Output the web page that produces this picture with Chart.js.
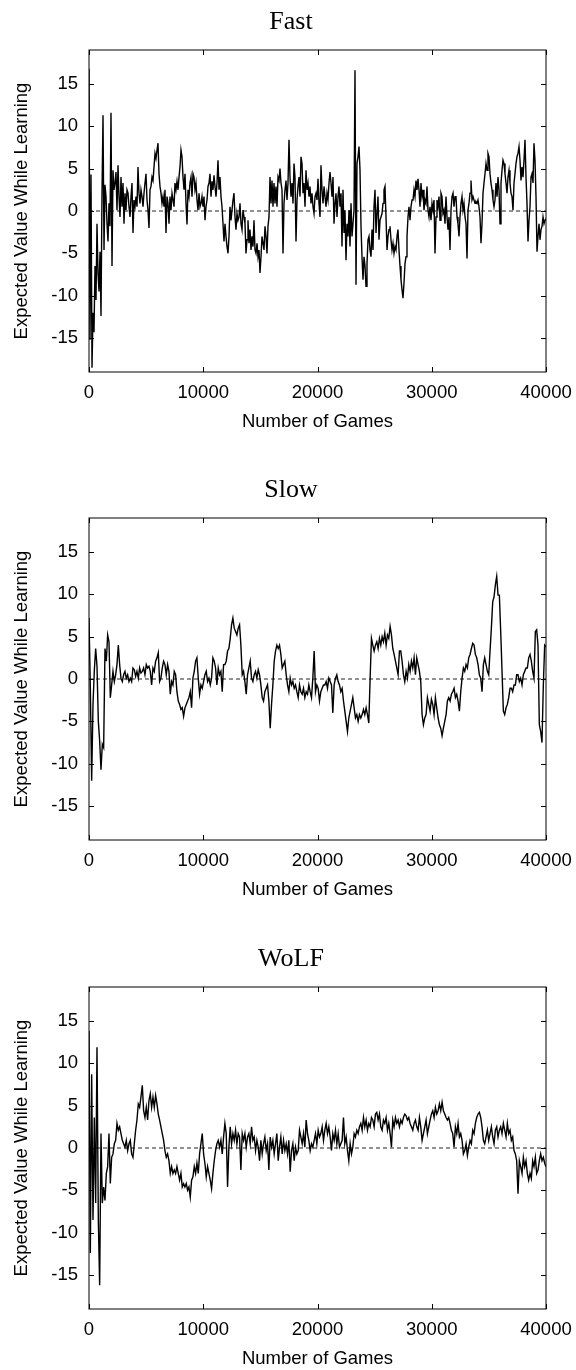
<!DOCTYPE html>
<html><head><meta charset="utf-8">
<script src="https://cdn.jsdelivr.net/npm/chart.js@4/dist/chart.umd.min.js"></script>
<style>
html,body{margin:0;padding:0;background:#fff;overflow:hidden;width:576px;height:1370px;}
.panel{position:absolute;left:0;width:576px;height:433px;}
canvas{display:block;}
</style></head><body>
<div class="panel" style="top:0px"><canvas id="c0" width="576" height="433"></canvas></div>
<div class="panel" style="top:468px"><canvas id="c1" width="576" height="433"></canvas></div>
<div class="panel" style="top:937px"><canvas id="c2" width="576" height="433"></canvas></div>
<script>
const X_MIN = 0, X_MAX = 40000;
const Y_MIN = -19, Y_MAX = 19;
const X_TICKS = [0, 10000, 20000, 30000, 40000];
const Y_TICKS = [-15, -10, -5, 0, 5, 10, 15];
const TITLES = ['Fast', 'Slow', 'WoLF'];
const X_LABEL = 'Number of Games';
const Y_LABEL = 'Expected Value While Learning';

// Expected value, evenly spaced over 0..40000 games
const FAST = [
16.8,-15.2,4.3,-18.5,-12,-14.3,-6.5,-10.5,-1.5,-7.3,-9.5,-4.8,-12.4,
2.1,11.3,-4.6,3.1,1.7,-1.5,-3.6,0.9,-1.8,11.6,-6.5,4.8,2.5,3.3,4.6,0.1,5.4,1.7,-0.7,4.0,0.5,3.3,-1.5,2.1,0.1,2.5,2.1,0.5,-0.7,1.7,3.3,
-2.6,1.3,0.5,1.7,0.5,5.2,2.1,0.9,2.5,1.7,0.5,2.1,3.3,4.4,1.3,0.1,-2.0,2.5,2.9,4.0,3.6,5.2,6.8,6.2,7.2,
8.0,4.4,2.9,2.1,0.9,1.7,0.5,2.5,-2.6,1.7,0.9,-1.5,1.7,0.1,2.1,1.3,
0.5,3.3,2.5,3.5,2.5,4.0,5.2,
7.2,6.4,4.0,2.5,4.4,0.9,-1.6,2.5,1.7,3.3,4.0,1.7,4.4,4.0,2.5,3.3,1.3,0.1,2.1,0.5,0.9,1.7,0.5,1.7,-1.1,0.5,1.3,2.9,3.3,4.4,1.7,3.5,2.5,4.2,2.9,1.7,
3.3,6.0,2.5,
4.0,1.7,0.5,-1.5,-3.6,-1.5,-3.0,-4.2,-5.0,-3.0,0.5,-1.1,0.1,1.3,
2.1,-0.7,-2.2,-0.3,-1.1,-0.7,0.9,-1.5,-2.2,0.1,-0.7,-1.5,-5.0,-3.4,-1.1,-3.8,-2.2,-4.6,-3.0,-4.2,-1.1,-4.6,-5.0,-3.8,-5.4,-4.6,-7.3,-5.4,-3.0,-3.8,-4.6,-1.8,-3.0,-5.0,-1.8,-0.7,4.0,0.9,3.6,0.5,3.3,0.9,2.9,0.5,4.0,3.6,5.0,3.3,2.5,-5.0,0.9,2.5,3.6,1.3,3.3,8.4,4.0,1.7,3.3,0.9,5.6,4.0,-3.6,1.3,2.9,4.0,1.7,6.4,5.6,2.1,3.3,0.5,4.8,2.5,3.3,1.7,2.9,0.9,2.1,0.5,-0.3,1.7,2.1,
1.3,3.8,0.9,-0.7,5.4,2.5,0.9,2.9,1.7,0.5,
2.1,1.3,3.3,4.6,3.3,1.7,4.0,-1.5,0.9,2.1,
-0.7,1.7,2.9,0.5,2.1,-4.2,2.5,-2.6,0.1,-5.8,
-1.5,-3.0,0.1,-4.2,0.9,-3.0,-1.5,0.1,16.6,-8.7,
5.6,6.4,7.6,4.8,-1.8,-5.4,-8.1,-5.4,-6.5,-8.9,
-6.2,-3.4,-3.0,-4.6,-5.4,-2.2,-4.6,0.5,2.5,-2.6,
-0.3,1.7,-3.4,-1.1,-0.7,-0.3,0.9,2.5,2.9,-0.7,
-4.6,-3.0,-2.2,-1.8,-3.4,-4.6,-3.8,-5.0,-4.2,-4.6,
-3.0,-2.2,-4.6,-6.5,-8.1,-9.3,-10.3,-8.5,-6.2,-5.4,
-3.0,-0.7,0.5,-1.1,0.5,1.3,1.3,2.5,1.7,3.6,
2.5,3.8,2.5,0.5,3.3,1.7,2.5,0.1,1.3,0.9,
2.9,0.1,-0.7,0.5,-1.1,0.9,0.1,1.3,-5.0,-0.7,
1.3,0.5,1.7,-1.1,2.1,1.7,-0.3,0.1,-1.5,1.7,
-0.7,-2.2,-0.7,-4.6,0.1,1.7,2.1,0.5,1.7,1.7,
-0.7,-1.5,-3.0,-0.7,0.9,1.7,0.1,0.9,-0.7,-1.5,
-5.6,0.1,0.9,2.1,3.6,1.3,1.7,1.3,0.9,1.1,
0.9,1.3,0.5,-0.7,-3.8,-1.5,2.1,3.3,4.4,5.6,
4.8,6.8,6.4,4.4,3.3,2.5,1.3,0.5,1.3,3.3,
1.7,4.0,2.5,-1.5,3.3,4.8,6.0,5.6,4.4,3.3,
2.1,4.0,4.8,3.3,2.1,1.7,0.1,3.3,4.4,5.6,
6.4,6.8,7.6,6.0,3.6,5.2,4.0,6.0,8.4,4.0,
0.9,-3.6,-1.1,0.5,4.0,4.4,3.3,8.0,6.0,1.7,
-4.8,-3.0,-1.5,-3.4,-2.2,-1.8,-0.7,-1.5,-1.1,-0.9
];

const SLOW = [
7.2,-1.0,-12.0,-3.0,1.0,3.6,1.5,-5.0,-7.3,-10.7,-7.7,-8.1,
3.6,2.1,5.2,4.4,-2.2,-0.7,0.9,-0.3,0.5,1.7,
4.0,1.7,0.1,-0.3,0.5,0.9,0.1,0.5,-0.3,0.1,
-0.3,1.3,1.1,0.3,0.9,0.1,1.3,0.7,0.9,1.3,
0.5,1.7,1.3,1.5,0.9,-0.7,1.3,0.9,2.1,2.5,
3.1,-0.3,0.1,1.3,2.1,1.7,0.5,1.7,0.9,-1.8,
-0.3,-0.7,0.9,0.5,-1.5,-2.6,-3.0,-3.6,-3.4,-4.4,
-3.4,-3.0,-2.6,-2.2,-1.5,-3.4,0.1,0.9,2.1,2.5,
0.1,-1.8,-0.7,-1.1,-0.3,0.5,0.9,-0.3,0.1,-0.7,
0.1,2.5,2.1,1.3,-0.7,1.3,0.5,0.9,-1.5,1.7,
1.7,2.1,3.3,3.6,4.8,6.4,7.2,6.0,5.6,5.2,
6.0,6.4,4.0,0.5,0.9,-0.3,-1.8,0.5,1.3,2.1,
0.1,-0.3,0.5,0.9,0.1,1.1,0.5,-0.7,-2.2,-2.6,
-1.5,-1.1,-0.7,-2.6,-5.8,-3.0,-0.7,2.1,3.3,4.0,
3.6,4.0,2.9,1.3,1.7,2.1,0.5,-0.7,-1.5,0.1,
-0.7,-0.3,-1.1,-0.7,-1.5,-2.2,-0.7,-1.5,-1.8,-1.1,
-2.2,-1.5,-1.8,-0.7,-1.5,-2.2,0.1,3.3,-1.5,-0.7,
-1.1,-2.6,-1.5,-1.1,-0.7,-0.7,-0.3,-1.1,0.1,-0.3,
-0.7,-4.0,-0.7,0.1,0.5,-0.3,-0.7,-1.5,-1.1,-2.6,
-3.8,-5.0,-6.2,-4.6,-3.8,-3.0,-2.2,-3.4,-4.6,-4.2,
-5.0,-4.2,-4.6,-4.2,-3.6,-4.2,-3.4,-4.2,-5.2,0.1,
4.8,4.0,3.3,4.0,4.4,3.6,4.8,4.0,5.0,4.4,
5.4,4.0,5.2,4.8,6.2,5.2,3.6,2.9,2.1,1.3,
0.5,3.3,3.3,2.1,0.5,-0.3,0.9,0.1,1.7,0.9,
2.1,1.3,2.5,0.5,2.5,1.7,0.9,-0.3,-4.2,-5.4,
-4.6,-4.2,-2.2,-3.0,-3.8,-2.4,-3.0,-4.2,-2.2,-3.4,
-4.6,-5.4,-5.8,-6.7,-5.8,-5.0,-4.2,-2.6,-2.2,-2.6,
-1.8,-1.5,-1.1,-2.2,-1.8,-2.6,-3.8,-1.5,0.1,1.3,
0.9,1.7,1.3,2.5,2.9,3.6,4.2,4.0,2.9,2.5,
1.7,0.5,0.1,-1.5,1.7,2.5,1.7,0.9,0.5,3.3,
6.0,9.1,9.7,11.1,12.1,9.9,9.9,5.6,0.9,-3.8,
-4.2,-3.4,-3.0,-2.2,-1.1,-1.1,-1.5,-0.7,-0.7,0.5,
0.5,-0.3,0.1,-0.7,0.5,0.9,1.3,1.3,2.5,2.9,
2.1,0.9,0.1,5.6,5.8,4.0,-5.4,-6.2,-7.5,-0.7,
4.0,3.8
];

const WOLF = [
13.8,-12.4,8.7,-8.5,3.6,-6.5,11.9,-8.5,-16.2,1.7,-6.5,-4.6,-6.2,
-3.0,-2.2,1.7,-4.2,-1.1,-0.7,0.5,0.9,2.9,2.1,
2.5,1.7,0.9,0.5,0.1,0.9,-0.3,0.5,0.9,-0.7,
-1.1,0.5,2.1,3.3,5.2,4.8,6.0,7.4,4.4,3.6,
4.8,3.3,5.6,6.4,4.8,6.0,4.8,6.2,5.2,4.0,
3.3,2.5,1.7,0.9,-0.3,-1.1,-0.7,-1.5,-3.0,-2.2,
-3.0,-2.6,-3.0,-2.2,-3.0,-3.8,-3.0,-4.6,-4.2,-4.6,
-4.2,-5.0,-4.6,-5.8,-3.8,-3.4,-2.2,-3.0,-1.8,-3.0,
-0.7,0.5,1.7,-0.7,-1.8,-3.4,-2.2,-3.0,-3.8,-4.8,
-3.0,-1.5,-0.3,0.5,0.9,0.1,0.9,-0.7,1.3,2.9,
1.7,-4.6,0.1,2.5,0.5,1.7,0.9,2.1,0.5,1.7,
1.3,-2.6,1.7,0.9,1.7,0.1,1.3,1.7,0.5,2.5,
0.9,1.3,-0.3,0.9,0.1,-1.5,0.9,-0.7,0.5,1.3,
-0.3,0.5,-2.6,1.3,0.1,0.9,-0.7,0.5,1.7,-1.5,
0.1,1.3,-0.7,0.9,-0.3,0.5,-0.7,0.9,-2.8,-0.3,
0.5,-1.5,0.1,-0.7,-0.3,2.1,1.3,0.5,1.7,0.1,
3.3,1.7,0.9,-0.3,0.5,0.1,0.9,1.7,0.5,2.1,
1.3,1.7,2.5,0.9,2.1,2.9,1.7,2.5,1.3,-0.3,
1.7,0.9,2.1,0.5,1.7,0.1,0.5,0.9,3.6,0.5,
1.3,-0.3,-1.5,0.5,-0.7,0.1,1.7,1.3,2.1,1.7,
2.5,2.9,2.1,3.6,2.5,3.3,2.1,2.9,2.5,3.6,
3.3,2.5,4.0,4.2,3.3,4.0,2.5,2.1,3.3,2.9,
3.6,2.1,2.9,1.7,0.1,3.3,2.5,3.6,2.9,3.3,
2.5,3.3,2.9,3.6,4.0,3.8,3.3,3.6,2.9,2.5,
2.1,2.9,3.3,2.5,2.1,3.6,2.5,0.9,1.7,2.5,
3.3,1.7,2.5,3.3,4.0,4.4,3.6,4.8,4.0,4.4,
5.2,4.4,5.4,4.4,4.0,3.6,3.3,3.6,2.9,2.1,
1.7,0.1,2.5,1.7,2.9,1.3,1.7,0.9,-0.7,-0.3,
0.5,-0.9,0.1,0.9,0.5,2.1,1.7,2.9,3.6,4.0,
4.2,3.6,2.5,0.9,0.5,1.3,2.1,0.9,1.7,2.5,
1.3,0.5,2.1,2.5,1.3,2.1,2.5,1.7,2.9,2.1,
1.3,2.9,1.7,2.1,0.9,1.3,-0.3,-0.7,-1.5,-5.4,
-1.5,-2.2,-3.0,-1.1,-2.2,-1.5,-3.0,-3.8,-3.0,-3.6,
-1.5,-2.2,-1.1,-3.0,-2.6,-1.5,-0.7,-1.5,-1.1,-1.8,
-2.2
];

const SERIES = [FAST, SLOW, WOLF];

const SANS = "'Liberation Sans', Arial, Helvetica, sans-serif";
const SERIF = "'Liberation Serif', 'Times New Roman', Times, serif";

const framePlugin = {
  id: 'frameTicks',
  afterDatasetsDraw(chart) {
    const { ctx, chartArea: a, scales: { x, y } } = chart;
    ctx.save();
    ctx.strokeStyle = '#000';
    ctx.lineWidth = 1;
    ctx.strokeRect(a.left, a.top, a.right - a.left, a.bottom - a.top);
    const L = 5;
    ctx.beginPath();
    x.ticks.forEach(t => {
      const px = Math.round(x.getPixelForValue(t.value)) + 0.5;
      ctx.moveTo(px, a.bottom); ctx.lineTo(px, a.bottom - L);
      ctx.moveTo(px, a.top); ctx.lineTo(px, a.top + L);
    });
    y.ticks.forEach(t => {
      const py = Math.round(y.getPixelForValue(t.value)) + 0.5;
      ctx.moveTo(a.left, py); ctx.lineTo(a.left + L, py);
      ctx.moveTo(a.right, py); ctx.lineTo(a.right - L, py);
    });
    ctx.stroke();
    ctx.restore();
  }
};

function makeChart(id, title, values) {
  const n = values.length;
  const pts = values.map((v, i) => ({ x: X_MIN + i * (X_MAX - X_MIN) / (n - 1), y: v }));
  return new Chart(document.getElementById(id), {
    type: 'line',
    data: {
      datasets: [
        { data: pts, borderColor: '#000', borderWidth: 1.4, pointRadius: 0, tension: 0, fill: false },
        { data: [{ x: X_MIN, y: 0 }, { x: X_MAX, y: 0 }], borderColor: '#222', borderWidth: 1,
          borderDash: [4, 3], pointRadius: 0, fill: false }
      ]
    },
    options: {
      responsive: false,
      animation: false,
      devicePixelRatio: 1,
      events: [],
      layout: { padding: { left: 36, right: 30, top: 0, bottom: 0 } },
      plugins: {
        legend: { display: false },
        tooltip: { enabled: false },
        title: {
          display: true, text: title, color: '#000',
          font: { family: SERIF, size: 26, weight: 'normal' },
          padding: { top: 7, bottom: 11.8 }
        }
      },
      scales: {
        x: {
          type: 'linear', min: X_MIN, max: X_MAX,
          grid: { display: false, drawTicks: false },
          border: { display: false },
          afterBuildTicks: s => { s.ticks = X_TICKS.map(v => ({ value: v })); },
          afterFit: s => { s.height = 61; s.paddingLeft = 0; s.paddingRight = 0; },
          ticks: { color: '#000', font: { family: SANS, size: 18.5 }, padding: 9.5,
                   maxRotation: 0, minRotation: 0, autoSkip: false, callback: v => String(v) },
          title: { display: true, text: X_LABEL, color: '#000',
                   font: { family: SANS, size: 18.5 }, padding: { top: 0, bottom: 0.3 } }
        },
        y: {
          type: 'linear', min: Y_MIN, max: Y_MAX,
          grid: { display: false, drawTicks: false },
          border: { display: false },
          afterBuildTicks: s => { s.ticks = Y_TICKS.map(v => ({ value: v })); },
          afterFit: s => { s.width = 53; s.paddingTop = 0; s.paddingBottom = 0; },
          ticks: { color: '#000', font: { family: SANS, size: 18.5 }, padding: 11,
                   autoSkip: false, callback: v => String(v) },
          title: { display: true, text: Y_LABEL, color: '#000',
                   font: { family: SANS, size: 18.5 }, padding: { top: -25.1, bottom: 0 } }
        }
      }
    },
    plugins: [framePlugin]
  });
}

TITLES.forEach((t, k) => makeChart('c' + k, t, SERIES[k]));
</script>
</body></html>
